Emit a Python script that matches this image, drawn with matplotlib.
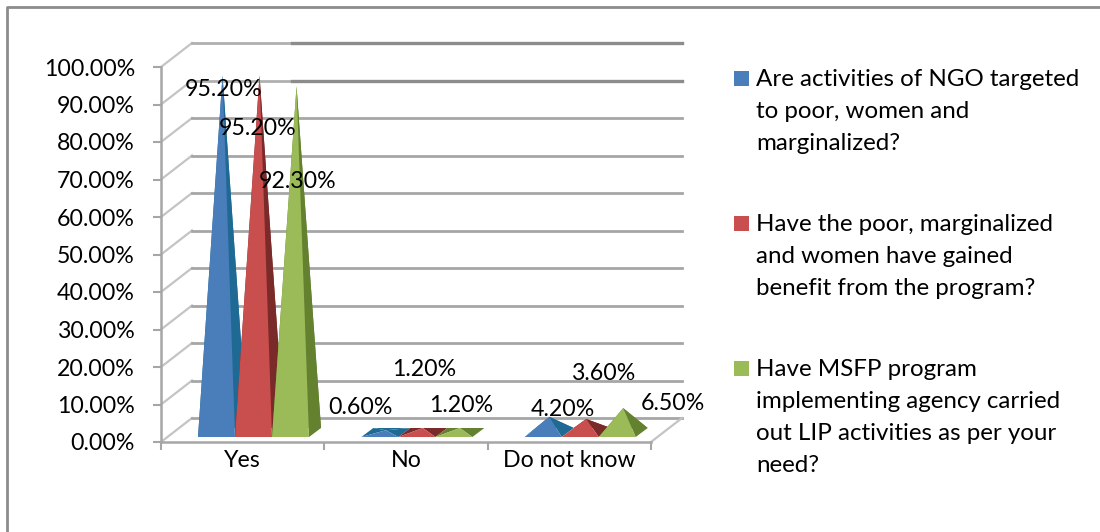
import matplotlib
matplotlib.use("Agg")
import matplotlib.pyplot as plt
from matplotlib.lines import Line2D
from matplotlib.patches import Polygon, Rectangle

plt.rcParams['font.family'] = ['Lato', 'DejaVu Sans']

categories = ["Yes", "No", "Do not know"]
ngo_targeted = [95.2, 0.6, 4.2]
gained_benefit = [95.2, 1.2, 3.6]
msfp_as_per_need = [92.3, 1.2, 6.5]
y_ticks = [0, 10, 20, 30, 40, 50, 60, 70, 80, 90, 100]
legend_labels = [
    "Are activities of NGO targeted\nto poor, women and\nmarginalized?",
    "Have the poor, marginalized\nand women have gained\nbenefit from the program?",
    "Have MSFP program\nimplementing agency carried\nout LIP activities as per your\nneed?",
]

W, H = 1100, 532
FONT = 16.7
LEGEND_FONT = 17.4
GRID = "#a6a6a6"
GRID_DARK = "#8c8c8c"
FRONT = ["#4a7ebb", "#c94f4f", "#9bbb59"]
SIDE = ["#1f6a94", "#7b2a2a", "#64812f"]
# pixel centres of the value labels, per series and category
LABEL_PX = [[(224, 90), (360, 408), (563, 409)],
            [(258, 129), (424, 369), (603, 374)],
            [(298, 181), (461, 406), (673, 403)]]
LEGEND_Y = [64, 209, 354]

# 3d look: the back wall sits up and to the right of the front axes
WALL_DX, WALL_DY = 31 / 163.3, 24 / 3.75
BAR_W = 37 / 163.3
BAR_START = 37 / 163.3
BASE_Y = 5 / 3.75
DEPTH_X, DEPTH_Y = 12 / 163.3, 9 / 3.75


def fx(px):
    return px / W


def fy(px):
    return 1 - px / H


def draw_pyramid(ax, x0, value, front, side):
    right = x0 + BAR_W
    back_y = BASE_Y + DEPTH_Y
    apex = (x0 + BAR_W / 2 + DEPTH_X / 2, BASE_Y + DEPTH_Y / 2 + value)
    faces = [
        ([(x0, BASE_Y), (x0 + DEPTH_X, back_y), apex], side),
        ([(x0 + DEPTH_X, back_y), (right + DEPTH_X, back_y), apex], side),
        ([(right, BASE_Y), (right + DEPTH_X, back_y), apex], side),
        ([(x0, BASE_Y), (right, BASE_Y), apex], front),
    ]
    for pts, color in faces:
        ax.add_patch(Polygon(pts, closed=True, facecolor=color, edgecolor="none", zorder=3, clip_on=False))


fig = plt.figure(figsize=(W / 100, H / 100), dpi=100)
ax = fig.add_axes([fx(161), fy(442), 490 / W, 375 / H])
ax.set_xlim(0, 3)
ax.set_ylim(0, 100)
ax.patch.set_visible(False)

for v in y_ticks:
    ax.plot([0, WALL_DX], [v, v + WALL_DY], color="#c4c4c4", lw=1.6, zorder=1, clip_on=False)
    if v >= 90:
        # the two top lines turn heavier past the first pyramid group
        ax.plot([WALL_DX, 0.80], [v + WALL_DY, v + WALL_DY], color="#b0b0b0", lw=2, zorder=1, clip_on=False)
        ax.plot([0.80, 3 + WALL_DX], [v + WALL_DY, v + WALL_DY], color=GRID_DARK, lw=2.4, zorder=1, clip_on=False)
    else:
        ax.plot([WALL_DX, 3 + WALL_DX], [v + WALL_DY, v + WALL_DY], color=GRID, lw=2, zorder=1, clip_on=False)
ax.plot([3, 3 + WALL_DX], [0, WALL_DY], color="#c4c4c4", lw=1.6, zorder=1, clip_on=False)

for i, series in enumerate([ngo_targeted, gained_benefit, msfp_as_per_need]):
    for j, value in enumerate(series):
        draw_pyramid(ax, j + BAR_START + i * BAR_W, value, FRONT[i], SIDE[i])
        x, y = LABEL_PX[i][j]
        fig.text(fx(x), fy(y), f"{value:.2f}%", fontsize=FONT, color="black", ha="center", va="center", zorder=6)

for name in ["top", "right"]:
    ax.spines[name].set_visible(False)
for name in ["left", "bottom"]:
    ax.spines[name].set_color(GRID)
    ax.spines[name].set_linewidth(1.8)

ax.set_yticks(y_ticks)
ax.set_yticklabels([f"{v:.2f}%" for v in y_ticks], fontsize=FONT)
ax.tick_params(axis="y", length=5.8, width=1.5, color=GRID, pad=13)
ax.set_xticks([0, 1, 2, 3])
ax.set_xticklabels([])
ax.tick_params(axis="x", length=5.8, width=1.5, color=GRID)
ax.set_xticks([0.5, 1.5, 2.5], minor=True)
ax.set_xticklabels(categories, minor=True, fontsize=FONT)
ax.tick_params(axis="x", which="minor", length=0, pad=6)

for i, label in enumerate(legend_labels):
    fig.add_artist(Rectangle((fx(734), fy(LEGEND_Y[i] + 22)), 15 / W, 15 / H, transform=fig.transFigure, facecolor=FRONT[i], edgecolor="none"))
    fig.text(fx(756), fy(LEGEND_Y[i] + 5), label, fontsize=LEGEND_FONT, color="black", ha="left", va="top", linespacing=1.64)

# chart frame, only top and left fall inside the canvas
fig.add_artist(Line2D([fx(7), fx(7), 1], [0, fy(7), fy(7)], transform=fig.transFigure, color=GRID_DARK, lw=2))

fig.savefig("out.png", dpi=100)
